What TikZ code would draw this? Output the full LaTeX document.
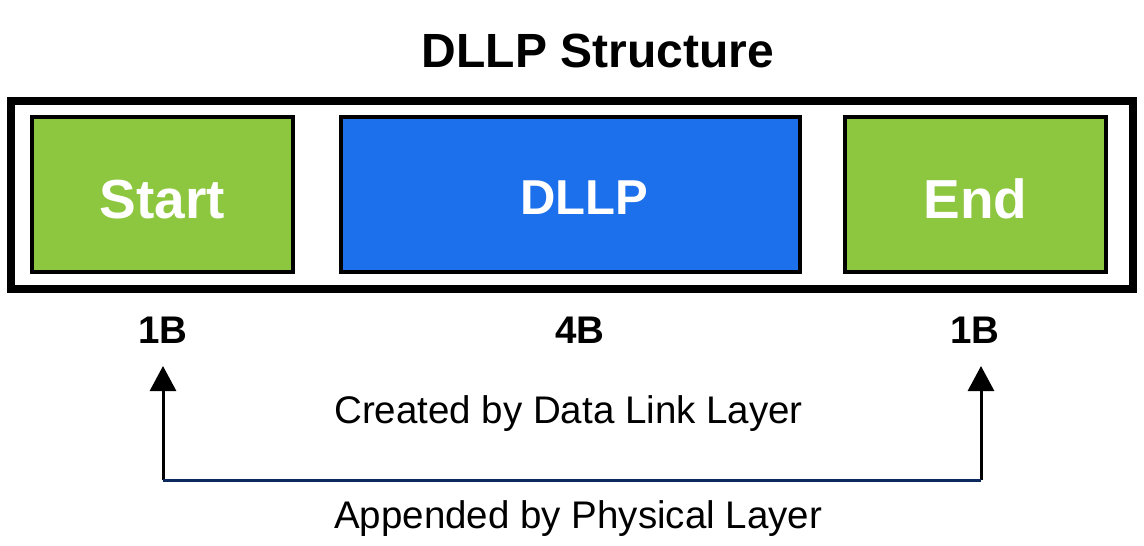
\documentclass[tikz,border=0pt]{standalone}
\usepackage{fontspec}
\setmainfont{Liberation Sans}
\usetikzlibrary{arrows.meta}
\definecolor{boxgreen}{RGB}{141,198,63}
\definecolor{boxblue}{RGB}{29,112,236}
\definecolor{navy}{RGB}{12,42,94}
\tikzset{
  field/.style={draw=black, line width=4pt},
  fieldtext/.style={text=white, font=\bfseries\fontsize{55}{60}\selectfont, anchor=base, inner sep=0pt},
  sizelabel/.style={font=\bfseries\fontsize{38.5}{42}\selectfont, anchor=base, inner sep=0pt},
  caption/.style={font=\fontsize{38.5}{42}\selectfont, anchor=base west, inner sep=0pt},
  uparrow/.style={draw=black, line width=3pt, -{Triangle[width=26pt,length=25pt]}},
}
\begin{document}
\begin{tikzpicture}[x=1pt,y=-1pt]
\useasboundingbox (0,0) rectangle (1144,546);
\node[font=\bfseries\fontsize{48}{56}\selectfont, anchor=base, inner sep=0pt] (title) at (598,67) {DLLP Structure};
\draw[line width=8pt] (11,101) rectangle (1133,289);
\path[field, fill=boxgreen] (32,117) rectangle (293,272);
\path[field, fill=boxblue] (341,117) rectangle (800,272);
\path[field, fill=boxgreen] (845,117) rectangle (1106,272);
\node[fieldtext] (start) at (162.5,218) {Start};
\node[fieldtext, font=\bfseries\fontsize{49}{54}\selectfont] (dllp) at (584,214) {DLLP};
\node[fieldtext] (end) at (975.5,218) {End};
\node[sizelabel] (s1) at (163,343) {1B};
\node[sizelabel] (s4) at (580,343) {4B};
\node[sizelabel] (s2) at (975,343) {1B};
\node[caption] (created) at (334,423) {Created by Data Link Layer};
\node[caption] (appended) at (334,528) {Appended by Physical Layer};
\coordinate (cl) at (163,480);
\coordinate (cr) at (981,480);
\coordinate (tl) at (163,366);
\coordinate (tr) at (981,366);
\draw[uparrow] (cl) -- (tl);
\draw[uparrow] (cr) -- (tr);
\draw[navy, line width=3pt] (cl) -- (cr);
\end{tikzpicture}
\end{document}
